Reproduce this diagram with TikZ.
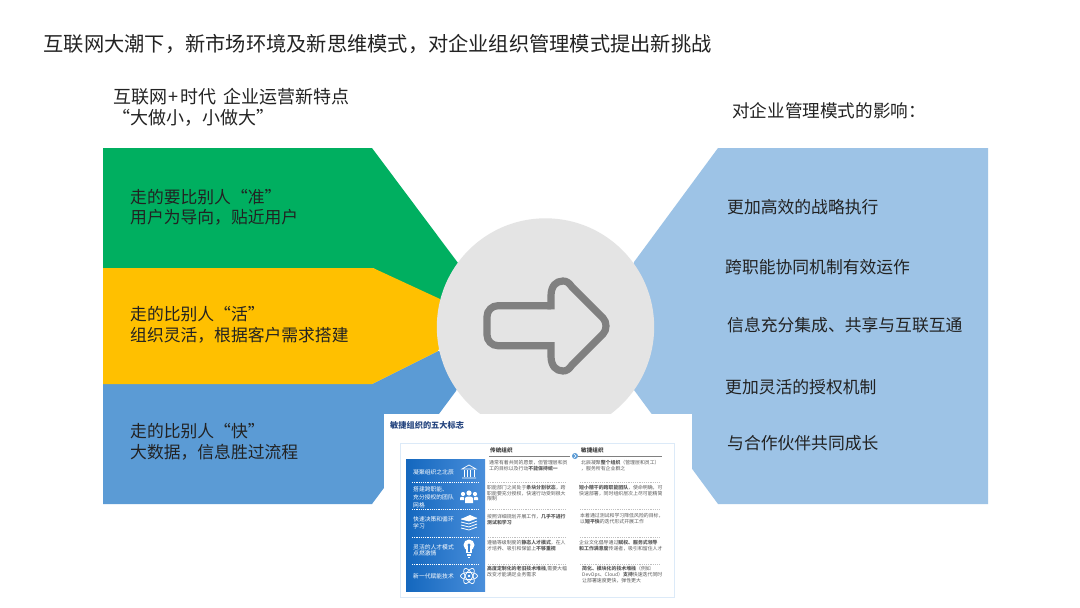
\documentclass[tikz,border=0pt]{standalone}
\usepackage{fontspec}
\setmainfont{Noto Sans CJK SC}
\definecolor{cgreen}{HTML}{00AF60}
\definecolor{cyellow}{HTML}{FFC000}
\definecolor{cblue}{HTML}{5B9BD5}
\definecolor{clight}{HTML}{9DC3E6}
\definecolor{cgrey}{HTML}{E4E4E4}
\definecolor{carrow}{HTML}{808080}
\definecolor{ink}{HTML}{222222}
\definecolor{small}{HTML}{5A5A5A}
\definecolor{titleblue}{HTML}{25457F}
\definecolor{panelL}{HTML}{1467BE}
\definecolor{panelR}{HTML}{4A8FDB}
\definecolor{panelM}{HTML}{3A82D2}
\definecolor{framec}{HTML}{DCEAF8}
\newcommand{\fs}[1]{\fontsize{#1}{#1}\selectfont}
\tikzset{
  lbl/.style={anchor=west,inner sep=0pt,text=ink},
  head/.style={lbl,font=\fs{20.24}},
  sub/.style={lbl,font=\fs{18}},
  body/.style={lbl,font=\fs{16.8}},
  tiny/.style={anchor=west,inner sep=0pt,text=small,font=\fs{4.9}},
  side/.style={anchor=west,inner sep=0pt,text=white,font=\fs{5.8}},
  hdr/.style={anchor=west,inner sep=0pt,text=black!75,font=\fs{5.6}\bfseries},
  wdash/.style={white,line width=0.5pt,dash pattern=on 1.2pt off 1pt},
  gdash/.style={black!25,line width=0.5pt,dash pattern=on 1.2pt off 1pt},
  ico/.style={white,line width=0.7pt,fill=none}
}
\begin{document}
\begin{tikzpicture}[x=1pt,y=-1pt]
\useasboundingbox (0,0) rectangle (1080,608);
\fill[white] (0,0) rectangle (1080,608);
% left bands
\fill[cblue] (103,384) -- (372,384) -- (438,351) -- (470,360) -- (456,391) -- (372,504) -- (103,504) -- cycle;
\fill[cgreen] (103,148) -- (372,148) -- (458,263) -- (450,310) -- (373,268) -- (103,268) -- cycle;
\fill[cyellow] (103,268) -- (373,268) -- (440,299) -- (450,325) -- (438,351) -- (372,384) -- (103,384) -- cycle;
% right shape
\fill[clight] (718,148) -- (988,148) -- (988,504) -- (718,504) -- (634,390) -- (620,325) -- (634,262) -- cycle;
% circle and arrow
\fill[cgrey] (545.5,327) circle[radius=108.7];
\draw[carrow,line width=7.2pt,line join=miter,rounded corners=11pt]
  (551,305.7) -- (487,305.7) -- (487,345.7) -- (551,345.7);
\draw[carrow,line width=7.2pt,line join=round]
  (551,309.3) -- (551,296)
  .. controls (551,286) and (556,281) .. (563,281)
  .. controls (567,281) and (569,283) .. (572,287)
  -- (603,318)
  .. controls (607,322) and (607,330) .. (603,334)
  -- (572,365)
  .. controls (569,369) and (567,371) .. (563,371)
  .. controls (556,371) and (551,366) .. (551,356)
  -- (551,342.1);
% title texts
\node[head] (title) at (43.5,44) {互联网大潮下，新市场环境及新思维模式，对企业组织管理模式提出新挑战};
\node[sub] (subA) at (113,97) {互联网\hspace{1.5pt}+\hspace{1.5pt}时代\hspace{3pt} 企业运营新特点};
\node[sub] (subB) at (112,118) {“大做小，小做大”};
\node[sub,font=\fs{17.6}] (subC) at (732,111) {对企业管理模式的影响：};
% left text
\node[body] (g1) at (130,197) {走的要比别人“准”};
\node[body] (g2) at (130,217) {用户为导向，贴近用户};
\node[body] (y1) at (130,314) {走的比别人“活”};
\node[body] (y2) at (130,335) {组织灵活，根据客户需求搭建};
\node[body] (b1) at (130,431) {走的比别人“快”};
\node[body] (b2) at (130,452) {大数据，信息胜过流程};
% right text
\node[body] (r1) at (727,207) {更加高效的战略执行};
\node[body] (r2) at (725,267) {跨职能协同机制有效运作};
\node[body] (r3) at (727,325) {信息充分集成、共享与互联互通};
\node[body] (r4) at (725,387) {更加灵活的授权机制};
\node[body] (r5) at (727,443) {与合作伙伴共同成长};
% embedded picture
\fill[white] (384,414) rectangle (692,604);
\node[anchor=west,inner sep=0pt,text=titleblue,font=\fs{8.2}\bfseries] (imgtitle) at (390,425) {敏捷组织的五大标志};
\draw[framec,line width=1pt] (400,443) rectangle (674,597);
\shade[left color=panelL,right color=panelR] (406,459) rectangle (485,591);
% header
\node[hdr] (hA) at (490,450) {传统组织};
\node[hdr] (hB) at (581,450) {敏捷组织};
\draw[black!50,line width=0.8pt] (489,456) -- (570,456) (578,456) -- (662,456);
\fill[cblue] (575,456) circle[radius=3];
\draw[white,line width=0.6pt] (574,454) -- (576,456) -- (574,458);
% separators
\foreach \yy in {482,509,537,564}{
  \draw[wdash] (412,\yy) -- (480,\yy);
  \draw[gdash] (488,\yy) -- (567,\yy);
  \draw[gdash] (580,\yy) -- (660,\yy);
}
% side labels
\node[side] (s1) at (413,472) {凝聚组织之北辰};
\node[side] (s2a) at (413,489) {搭建跨职能、};
\node[side] (s2b) at (413,497) {充分授权的团队};
\node[side] (s2c) at (413,505) {网格};
\node[side] (s3a) at (413,519) {快速决策和循环};
\node[side] (s3b) at (413,526) {学习};
\node[side] (s4a) at (413,547) {灵活的人才模式};
\node[side] (s4b) at (413,553.5) {点燃激情};
\node[side] (s5) at (413,576) {新一代赋能技术};
% traditional column
\node[tiny] (t1a) at (489,463) {通常有着共同的愿景，但管理层和员};
\node[tiny] (t1b) at (489,469) {工的目标以及行动\textbf{不能保持统一}};
\node[tiny] (t2a) at (487,488) {职能部门之间处于\textbf{条块分割状态}，跨};
\node[tiny] (t2b) at (487,494) {职能要充分授权，快速行动受到很大};
\node[tiny] (t2c) at (487,499) {限制};
\node[tiny] (t3a) at (487,517) {按照详细规划开展工作，\textbf{几乎不进行}};
\node[tiny] (t3b) at (487,523) {\textbf{测试和学习}};
\node[tiny] (t4a) at (487,543) {遵循等级制度的\textbf{静态人才模式}，在人};
\node[tiny] (t4b) at (487,549) {才培养、吸引和保留上\textbf{不够重视}};
\node[tiny] (t5a) at (487,569) {\textbf{高度定制化的老旧技术堆栈},需要大幅};
\node[tiny] (t5b) at (487,575) {改变才能满足业务需求};
% agile column
\node[tiny] (a1a) at (581,463) {北辰凝聚\textbf{整个组织}（管理层和员工）};
\node[tiny] (a1b) at (581,469) {，服务所有企业群之};
\node[tiny] (a2a) at (579,488) {\textbf{短小精干的跨职能团队}，使命明确，可};
\node[tiny] (a2b) at (579,494) {快速部署，同时组织层次上尽可能精简};
\node[tiny] (a3a) at (580,516) {本着通过测试和学习降低风险的目标，};
\node[tiny] (a3b) at (580,522) {以\textbf{短平快}的迭代形式开展工作};
\node[tiny] (a4a) at (579,543) {企业文化倡导通过\textbf{赋权、服务式领导}};
\node[tiny] (a4b) at (579,549) {\textbf{和工作满意度}传递者，吸引和留住人才};
\node[tiny] (a5a) at (582,569) {\textbf{简化、模块化的技术堆栈}（例如};
\node[tiny] (a5b) at (582,575) {DevOps、Cloud）\textbf{支持}快速迭代同时};
\node[tiny] (a5c) at (582,581) {让部署速度更快，弹性更大};
% icons
\begin{scope}[shift={(469,472)}]
  \draw[ico] (-7,-3) -- (0,-7) -- (7,-3) -- cycle (-7,6) -- (7,6);
  \draw[ico,line width=1pt] (-5,-2) -- (-5,5) (-1.7,-2) -- (-1.7,5) (1.7,-2) -- (1.7,5) (5,-2) -- (5,5);
\end{scope}
\begin{scope}[shift={(469,496)}]
  \fill[white] (0,-3) circle[radius=2.6] (-6,-2) circle[radius=2.1] (6,-2) circle[radius=2.1];
  \fill[white] (-4,7) -- (-4,2) .. controls (-4,0) and (4,0) .. (4,2) -- (4,7) -- cycle;
  \fill[white] (-9,4) -- (-9,2) .. controls (-9,0.5) and (-5,0.5) .. (-5,1.5) -- (-5,4) -- cycle;
  \fill[white] (9,4) -- (9,2) .. controls (9,0.5) and (5,0.5) .. (5,1.5) -- (5,4) -- cycle;
\end{scope}
\begin{scope}[shift={(469,522)}]
  \foreach \dy in {-3,0,3,6}{
    \draw[ico,line width=0.8pt] (-8,\dy) -- (0,\dy+2) -- (8,\dy-1);
  }
  \fill[white] (-8,-3) -- (1,-7) -- (8,-4) -- (0,-1) -- cycle;
\end{scope}
\begin{scope}[shift={(469,548)}]
  \fill[white] (0,-3) circle[radius=5.5];
  \fill[white] (-2.8,0) rectangle (2.8,5);
  \fill[white] (-2.2,6) rectangle (2.2,8);
  \fill[white] (-1,8.5) rectangle (1,9.5);
  \fill[panelM] (0,-3) circle[radius=1.6];
  \fill[panelM] (-0.6,-2) rectangle (0.6,4);
\end{scope}
\begin{scope}[shift={(469,576)}]
  \draw[ico] (0,0) ellipse[x radius=8.5,y radius=3.6];
  \draw[ico,rotate=60] (0,0) ellipse[x radius=8.5,y radius=3.6];
  \draw[ico,rotate=-60] (0,0) ellipse[x radius=8.5,y radius=3.6];
  \fill[white] (0,0) circle[radius=1.3];
\end{scope}
\end{tikzpicture}
\end{document}
